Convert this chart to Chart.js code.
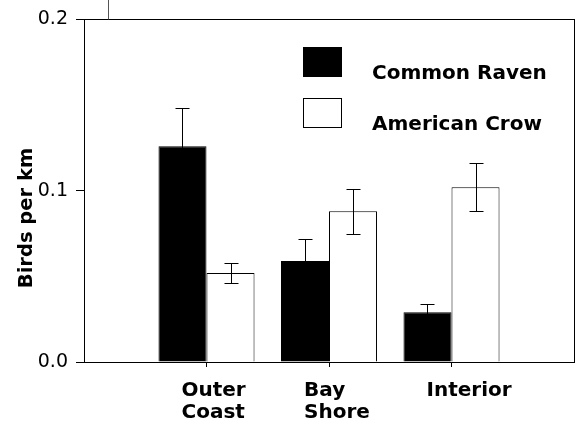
<!DOCTYPE html>
<html>
<head>
<meta charset="utf-8">
<script src="https://cdn.jsdelivr.net/npm/chart.js@4"></script>
<style>
  html, body { margin: 0; padding: 0; background: #fff; }
  #wrap { width: 581px; height: 421px; }
</style>
</head>
<body>
<div id="wrap"><canvas id="birds"></canvas></div>
<script>
// categories (empty slots at the ends keep the gap on both sides)
var sites = ["", ["Outer", "Coast"], ["Bay", "Shore"], "Interior", ""];

// birds per km, with standard errors
var ravenValues = [null, 0.126, 0.059, 0.029, null];
var ravenErrors = [null, 0.022, 0.013, 0.005, null];
var crowValues = [null, 0.052, 0.088, 0.102, null];
var crowErrors = [null, 0.006, 0.013, 0.014, null];

var yTicks = [0.0, 0.1, 0.2];

var FONT = "'DejaVu Sans', sans-serif";

// error bars on top of each bar
var errorBars = {
  id: "errorBars",
  afterDatasetsDraw: function (chart) {
    var ctx = chart.ctx;
    var y = chart.scales.y;
    ctx.save();
    ctx.strokeStyle = "#000";
    ctx.lineWidth = 1;
    chart.data.datasets.forEach(function (ds, i) {
      var meta = chart.getDatasetMeta(i);
      meta.data.forEach(function (bar, j) {
        var v = ds.data[j];
        var e = ds.errors[j];
        if (v == null) return;
        var x = Math.round(bar.x) + 0.5;
        var top = Math.round(y.getPixelForValue(v + e)) + 0.5;
        var bottom = Math.round(y.getPixelForValue(v - e)) + 0.5;
        ctx.beginPath();
        ctx.moveTo(x, top);
        ctx.lineTo(x, bottom);
        ctx.moveTo(x - 7, top);
        ctx.lineTo(x + 7, top);
        ctx.moveTo(x - 7, bottom);
        ctx.lineTo(x + 7, bottom);
        ctx.stroke();
      });
    });
    ctx.restore();
  }
};

// frame, legend inside the plot, axis title
var decorations = {
  id: "decorations",
  afterDraw: function (chart) {
    var ctx = chart.ctx;
    var a = chart.chartArea;
    ctx.save();
    ctx.strokeStyle = "#000";
    ctx.lineWidth = 1;
    ctx.strokeRect(Math.round(a.left) + 0.5, Math.round(a.top) + 0.5,
      Math.round(a.right - a.left), Math.round(a.bottom - a.top));
    // stray line above the frame
    ctx.strokeStyle = "#555";
    ctx.beginPath();
    ctx.moveTo(108.5, 0);
    ctx.lineTo(108.5, a.top);
    ctx.stroke();
    ctx.strokeStyle = "#000";

    // legend
    ctx.font = "bold 20px " + FONT;
    ctx.textBaseline = "alphabetic";
    chart.data.datasets.forEach(function (ds, i) {
      var by = 47 + i * 51;
      ctx.fillStyle = ds.backgroundColor;
      ctx.fillRect(303, by, 38, 29);
      ctx.strokeRect(303.5, by + 0.5, 38, 29);
      ctx.fillStyle = "#000";
      ctx.fillText(ds.label, 372, by + 32);
    });

    // y axis title
    ctx.translate(32, 218);
    ctx.rotate(-Math.PI / 2);
    ctx.textAlign = "center";
    ctx.font = "bold 19.5px " + FONT;
    ctx.fillText("Birds per km", 0, 0);
    ctx.restore();
  }
};

new Chart("birds", {
  type: "bar",
  data: {
    labels: sites,
    datasets: [{
      label: "Common Raven",
      data: ravenValues,
      errors: ravenErrors,
      backgroundColor: "#000000",
      borderColor: "#000000",
      borderWidth: 1
    }, {
      label: "American Crow",
      data: crowValues,
      errors: crowErrors,
      backgroundColor: "#ffffff",
      borderColor: "#000000",
      borderWidth: 1
    }]
  },
  options: {
    responsive: true,
    maintainAspectRatio: false,
    animation: false,
    events: [],
    layout: { padding: { top: 19, right: 7, left: 0, bottom: 0 } },
    datasets: {
      bar: { categoryPercentage: 0.784, barPercentage: 1.0, skipNull: false }
    },
    plugins: {
      legend: { display: false },
      tooltip: { enabled: false }
    },
    scales: {
      x: {
        offset: false,
        border: { display: true, color: "#000" },
        grid: {
          offset: false,
          drawOnChartArea: false,
          tickLength: 5,
          color: function (c) {
            return (c.index === 0 || c.index === sites.length - 1) ? "rgba(0,0,0,0)" : "#000";
          }
        },
        ticks: {
          color: "#000",
          font: { family: FONT, size: 20, weight: "bold", lineHeight: 1.1 },
          maxRotation: 0,
          autoSkip: false,
          align: "start",
          labelOffset: -25,
          padding: 13
        },
        afterFit: function (scale) {
          scale.height = 59;
          scale.paddingLeft = 0;
          scale.paddingRight = 0;
        }
      },
      y: {
        min: 0,
        max: 0.2,
        border: { display: true, color: "#000" },
        grid: { drawOnChartArea: false, tickLength: 8, color: "#000" },
        afterBuildTicks: function (scale) {
          scale.ticks = yTicks.map(function (v) { return { value: v }; });
        },
        ticks: {
          color: "#000",
          font: { family: FONT, size: 19 },
          padding: 8,
          callback: function (v) { return Number(v).toFixed(1); }
        },
        afterFit: function (scale) { scale.width = 84; }
      }
    }
  },
  plugins: [errorBars, decorations]
});
</script>
</body>
</html>
